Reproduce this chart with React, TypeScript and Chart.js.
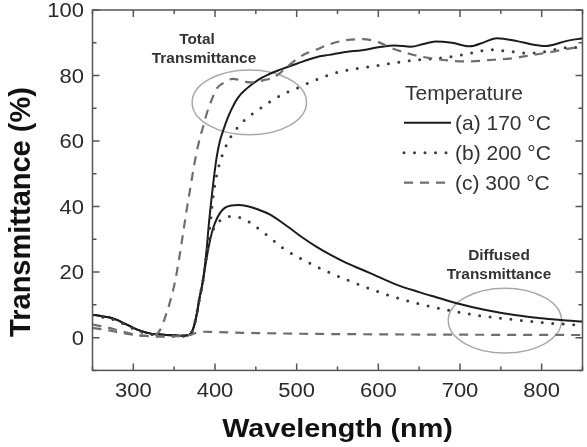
import React, { useEffect, useRef } from "react";
import { Chart, registerables } from "chart.js";

Chart.register(...registerables);

// ---------- data ----------
const X_MIN = 250;
const X_MAX = 850;
const Y_MIN = -10;
const Y_MAX = 100;
const X_TICKS = [300, 400, 500, 600, 700, 800];
const Y_TICKS = [0, 20, 40, 60, 80, 100];

// (a) 170 °C total transmittance
const WL_TOTAL_A = [250,260,270,280,290,300,310,320,330,340,350,360,368,373,377.5,381,385,389,393,397.8,402,406,410,415,420,428,438.7,453,465,480,500,524,540,560,580,600,620,640,655,670,690,712,730,745,770,790,805,830,850];
const T_TOTAL_A = [7,6.6,6.2,5.4,4.2,3,2,1.3,1,0.8,0.7,0.6,0.8,2.5,7,12,17,25,36,47,55,60,63.2,66.7,69.6,73.2,76,78.7,80.3,81.8,83.6,85.6,86.3,87.2,87.7,88.6,89.2,88.8,89.6,90.4,90,88.9,90.2,91.4,90.5,89.4,89,90.5,91.4];
// (a) 170 °C diffused transmittance
const WL_DIFF_A = [250,260,270,280,290,300,310,320,330,340,350,360,368,373,377.5,381,385,390,396,400,406,412,420,428.5,440,452,467,485,508,525,541,560,590,622,650,670,696,730,769,800,830,850];
const T_DIFF_A = [7,6.6,6.2,5.4,4.2,3,2,1.3,1,0.8,0.7,0.6,0.8,2.5,7,12,17,24.7,31.9,35,38,39.6,40.3,40.5,40.1,39.2,37.6,34.6,30.4,27.6,25.3,22.9,19.7,16.2,13.9,12.4,10.5,8.5,6.8,5.9,5.2,4.9];
// (b) 200 °C total transmittance
const WL_TOTAL_B = [250,260,270,280,290,300,310,320,330,340,350,360,368,373,377.5,381,385,389,393,397.7,402,406,411,416,424,434.6,446.8,460,471,485,500,524,550,570,590,615,642,670,703,720,736,760,785,805,826,850];
const T_TOTAL_B = [6.8,6.4,6,5.2,4,2.8,1.8,1.1,0.8,0.6,0.5,0.5,0.7,2.5,7,12,17,24,32,43,49.5,53.5,57,59.8,63,66,68.5,70.7,72.6,74.5,76.1,78.7,81,82,82.7,83.7,84.6,85.2,86.3,87.2,87.9,87.4,86.8,87.3,88.4,88.6];
// (b) 200 °C diffused transmittance
const WL_DIFF_B = [250,260,270,280,290,300,310,320,330,340,350,360,368,373,377.5,381,385,389,393,398,403,408,414,420,432.6,447,465,483.5,500,524,549,565,590,614,650,696,730,769,800,842,850];
const T_DIFF_B = [6.8,6.4,6,5.2,4,2.8,1.8,1.1,0.8,0.6,0.5,0.5,0.7,2.5,7,12,17,24,30,33,35,36,36.8,37,36.5,34.4,31,27.3,24.8,21.7,18.9,17.3,14.9,12.8,10.3,7.9,6.5,5.4,4.6,3.9,3.8];
// (c) 300 °C total transmittance
const WL_TOTAL_C = [250,260,270,280,290,300,310,320,327,332.6,340,345,351,356,361,365,369,373,377,381.6,385.6,390,396,402,410,422,430.5,442.8,451,460,471,479.5,490,500,512,520,540,561,581,600,614,640,663,685,708,735,765,790,814,835,850];
const T_TOTAL_C = [4,3.5,3,2.3,1.6,1,0.6,0.5,0.8,2.3,7,11,17,24,32,38.5,44.5,50.5,56,61,64.5,68.5,72.6,76,77.7,79,78.6,77.9,78,78.6,79.3,80.7,83,85,86.8,87.5,89.5,90.8,91.1,90.2,88.6,86.5,85.3,84.6,84.3,84.7,85.3,86.3,87.3,88.3,88.9];
// (c) 300 °C diffused transmittance
const WL_DIFF_C = [250,260,270,280,290,300,310,320,330,340,350,360,370,377,383.6,400,450,500,600,700,850];
const T_DIFF_C = [3,2.6,2.2,1.7,1.3,0.9,0.6,0.4,0.3,0.3,0.4,0.5,0.8,1.5,1.8,1.7,1.4,1.2,1,0.9,0.8];

const LEGEND_TITLE = "Temperature";
const LEGEND_LABELS = ["(a) 170 °C", "(b) 200 °C", "(c) 300 °C"];

// highlight ellipses (data units)
const ELLIPSE_WL = [442, 755];
const ELLIPSE_T = [71.8, 5.2];
const ELLIPSE_RWL = [70, 69.4];
const ELLIPSE_RT = [9.9, 9.9];

// ---------- styles ----------
const FONT = '"Liberation Sans", Arial, Helvetica, sans-serif';
const STYLES = [
  { color: "#1c1c1c", width: 2, dash: [] as number[], cap: "butt" },
  { color: "#3a3a3a", width: 3, dash: [0, 10.5], cap: "round" },
  { color: "#6e6e6e", width: 2.2, dash: [9, 7], cap: "butt" },
];

function pts(wl: number[], t: number[]) {
  return wl.map((x, i) => ({ x, y: t[i] }));
}

function txt(
  ctx: CanvasRenderingContext2D,
  s: string,
  x: number,
  y: number,
  font: string,
  color: string,
  align: CanvasTextAlign,
  sx = 1,
  rot = 0,
  baseline: CanvasTextBaseline = "alphabetic"
) {
  ctx.save();
  ctx.translate(x, y);
  if (rot) ctx.rotate(rot);
  ctx.scale(sx, 1);
  ctx.font = font;
  ctx.fillStyle = color;
  ctx.textAlign = align;
  ctx.textBaseline = baseline;
  ctx.fillText(s, 0, 0);
  ctx.restore();
}

const decorPlugin = {
  id: "decor",
  beforeDatasetsDraw(chart: any) {
    const ctx: CanvasRenderingContext2D = chart.ctx;
    const xs = chart.scales.x;
    const ys = chart.scales.y;
    ctx.save();
    ctx.strokeStyle = "#a8a8a8";
    ctx.lineWidth = 1.5;
    for (let i = 0; i < ELLIPSE_WL.length; i++) {
      const cx = xs.getPixelForValue(ELLIPSE_WL[i]);
      const cy = ys.getPixelForValue(ELLIPSE_T[i]);
      const rx = Math.abs(xs.getPixelForValue(ELLIPSE_WL[i] + ELLIPSE_RWL[i]) - cx);
      const ry = Math.abs(ys.getPixelForValue(ELLIPSE_T[i] + ELLIPSE_RT[i]) - cy);
      ctx.beginPath();
      ctx.ellipse(cx, cy, rx, ry, 0, 0, Math.PI * 2);
      ctx.stroke();
    }
    ctx.restore();
  },
  afterDraw(chart: any) {
    const ctx: CanvasRenderingContext2D = chart.ctx;
    const xs = chart.scales.x;
    const ys = chart.scales.y;
    const { left, right, top, bottom } = chart.chartArea;
    ctx.save();
    // frame
    ctx.strokeStyle = "#555";
    ctx.lineWidth = 1.5;
    ctx.strokeRect(left, top, right - left, bottom - top);
    // inward ticks
    ctx.beginPath();
    for (let v = X_MIN; v <= X_MAX; v += 50) {
      const px = xs.getPixelForValue(v);
      const len = X_TICKS.includes(v) ? 7 : 4;
      ctx.moveTo(px, bottom);
      ctx.lineTo(px, bottom - len);
      ctx.moveTo(px, top);
      ctx.lineTo(px, top + len);
    }
    for (let v = Y_MIN; v <= Y_MAX; v += 10) {
      const py = ys.getPixelForValue(v);
      const len = Y_TICKS.includes(v) ? 7 : 4;
      ctx.moveTo(left, py);
      ctx.lineTo(left + len, py);
      ctx.moveTo(right, py);
      ctx.lineTo(right - len, py);
    }
    ctx.stroke();
    ctx.restore();

    // tick labels
    const tickFont = `20px ${FONT}`;
    X_TICKS.forEach((v) => {
      txt(ctx, String(v), xs.getPixelForValue(v), 397, tickFont, "#2a2a2a", "center", 1.1);
    });
    Y_TICKS.forEach((v) => {
      txt(ctx, String(v), 84, ys.getPixelForValue(v) + 7.2, tickFont, "#2a2a2a", "right", 1.1);
    });

    // axis titles
    txt(ctx, "Wavelength (nm)", (left + right) / 2, 437, `bold 25px ${FONT}`, "#111", "center", 1.15);
    txt(ctx, "Transmittance (%)", 22, 212, `bold 29px ${FONT}`, "#111", "center", 1, -Math.PI / 2, "middle");

    // annotations
    const annFont = `bold 14px ${FONT}`;
    txt(ctx, "Total", 197, 44, annFont, "#333", "center", 1.1);
    txt(ctx, "Transmittance", 204, 63, annFont, "#333", "center", 1.1);
    txt(ctx, "Diffused", 499, 260, annFont, "#333", "center", 1.1);
    txt(ctx, "Transmittance", 499, 279, annFont, "#333", "center", 1.1);

    // legend
    const legFont = `21px ${FONT}`;
    txt(ctx, LEGEND_TITLE, 405, 100, legFont, "#333", "left");
    const rowY = [122.7, 152.7, 182.7];
    LEGEND_LABELS.forEach((lab, i) => {
      const st = STYLES[i];
      ctx.save();
      ctx.strokeStyle = st.color;
      ctx.lineWidth = st.width;
      ctx.setLineDash(st.dash);
      ctx.lineCap = st.cap as CanvasLineCap;
      ctx.beginPath();
      ctx.moveTo(404, rowY[i]);
      ctx.lineTo(451, rowY[i]);
      ctx.stroke();
      ctx.restore();
      txt(ctx, lab, 455, rowY[i] + 7.5, legFont, "#333", "left");
    });
  },
};

export default function App() {
  const ref = useRef<HTMLCanvasElement | null>(null);
  useEffect(() => {
    if (!ref.current) return;
    const mk = (label: string, wl: number[], t: number[], si: number) => {
      const st = STYLES[si];
      return {
        label,
        data: pts(wl, t),
        borderColor: st.color,
        backgroundColor: st.color,
        borderWidth: st.width,
        borderDash: st.dash,
        borderCapStyle: st.cap,
        borderJoinStyle: "round",
        pointRadius: 0,
        fill: false,
        cubicInterpolationMode: "monotone",
      };
    };
    const chart = new Chart(ref.current, {
      type: "line",
      data: {
        datasets: [
          mk("diff c", WL_DIFF_C, T_DIFF_C, 2),
          mk("total c", WL_TOTAL_C, T_TOTAL_C, 2),
          mk("diff b", WL_DIFF_B, T_DIFF_B, 1),
          mk("total b", WL_TOTAL_B, T_TOTAL_B, 1),
          mk("diff a", WL_DIFF_A, T_DIFF_A, 0),
          mk("total a", WL_TOTAL_A, T_TOTAL_A, 0),
        ] as any,
      },
      options: {
        animation: false,
        responsive: false,
        devicePixelRatio: 1,
        events: [],
        layout: { padding: { top: 10, right: 4.5, left: 0, bottom: 0 } },
        plugins: { legend: { display: false }, tooltip: { enabled: false } },
        scales: {
          x: {
            type: "linear",
            min: X_MIN,
            max: X_MAX,
            ticks: { display: false },
            grid: { display: false },
            border: { display: false },
            afterFit: (s: any) => {
              s.height = 76.6;
            },
          },
          y: {
            type: "linear",
            min: Y_MIN,
            max: Y_MAX,
            ticks: { display: false },
            grid: { display: false },
            border: { display: false },
            afterFit: (s: any) => {
              s.width = 92.5;
            },
          },
        },
      } as any,
      plugins: [decorPlugin],
    });
    return () => chart.destroy();
  }, []);
  return (
    <div style={{ position: "fixed", left: 0, top: 0, width: 587, height: 447, background: "#fff" }}>
      <canvas ref={ref} width={587} height={447} />
    </div>
  );
}
